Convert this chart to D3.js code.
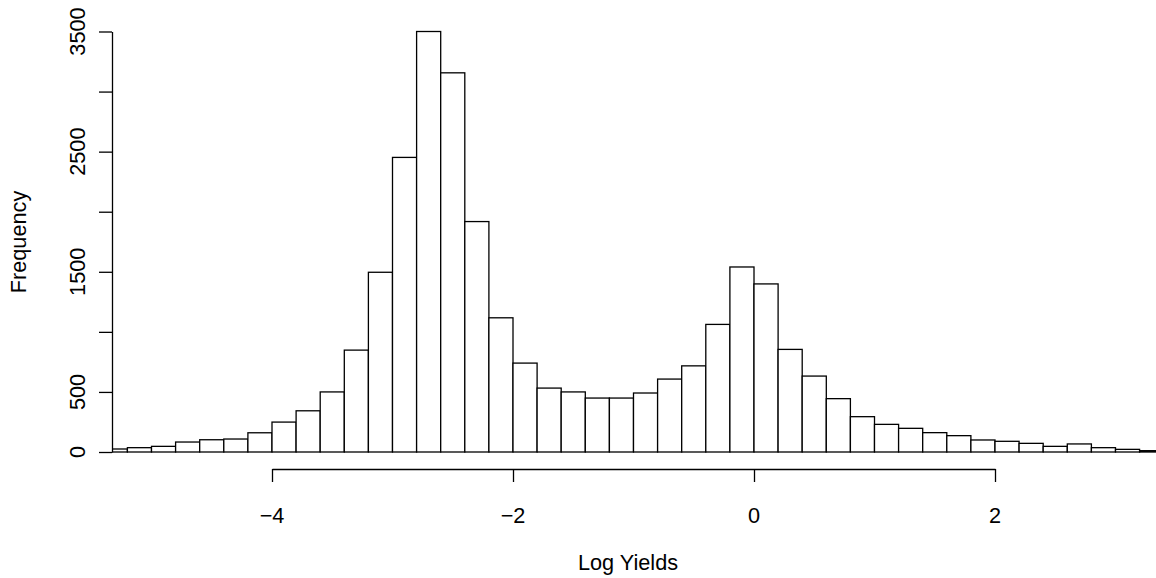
<!DOCTYPE html>
<html>
<head>
<meta charset="utf-8">
<script src="https://cdn.jsdelivr.net/npm/d3@7/dist/d3.min.js"></script>
<style>
  html, body { margin: 0; padding: 0; background: #fff; }
  svg { display: block; }
  text { font-family: "Liberation Sans", Arial, Helvetica, sans-serif; fill: #000; }
</style>
</head>
<body>
<svg id="chart" width="1156" height="578"></svg>
<script>
// Histogram bin left edges (width 0.2)
const binLefts = [-5.4,-5.2,-5.0,-4.8,-4.6,-4.4,-4.2,-4.0,-3.8,-3.6,-3.4,-3.2,-3.0,-2.8,-2.6,-2.4,-2.2,-2.0,-1.8,-1.6,-1.4,-1.2,-1.0,-0.8,-0.6,-0.4,-0.2,0.0,0.2,0.4,0.6,0.8,1.0,1.2,1.4,1.6,1.8,2.0,2.2,2.4,2.6,2.8,3.0,3.2];
const binWidth = 0.2;
const counts = [25,36,47,83,102,108,160,249,343,500,848,1496,2452,3500,3156,1918,1117,740,532,500,449,449,491,607,717,1062,1540,1399,854,632,444,294,230,197,161,136,100,89,72,47,67,36,22,11];
const xTicks = [-4,-2,0,2];
const yTicks = [0,500,1000,1500,2000,2500,3000,3500];
const yTickLabels = ["0","500","","1500","","2500","","3500"];
const xTitle = "Log Yields";
const yTitle = "Frequency";

const svg = d3.select("#chart");
const LW = 1.3;
const plotLeft = 112, plotRight = 1156, axisY = 469, tickLen = 13;

const x = d3.scaleLinear().domain([-4, 2]).range([272, 995]);
const y = d3.scaleLinear().domain([0, 3500]).range([452, 31.5]);

svg.append("defs").append("clipPath").attr("id", "plotclip")
  .append("rect").attr("x", plotLeft).attr("y", 0).attr("width", plotRight - plotLeft + 20).attr("height", axisY);

const bins = binLefts.map((l, i) => ({ x0: l, x1: l + binWidth, n: counts[i] }));

svg.append("g").attr("clip-path", "url(#plotclip)")
  .selectAll("rect").data(bins).join("rect")
  .attr("x", d => x(d.x0))
  .attr("y", d => y(d.n))
  .attr("width", d => x(d.x1) - x(d.x0))
  .attr("height", d => y(0) - y(d.n))
  .attr("fill", "#fff")
  .attr("stroke", "#000")
  .attr("stroke-width", LW);

// X axis
const xAxis = d3.axisBottom(x).tickValues(xTicks).tickSize(tickLen).tickSizeOuter(0).tickFormat("");
const gx = svg.append("g").attr("transform", `translate(0,${axisY})`).call(xAxis);
gx.selectAll("path, line").attr("stroke", "#000").attr("stroke-width", LW);
svg.append("g").selectAll("text").data(xTicks).join("text")
  .attr("x", d => x(d)).attr("y", 523)
  .attr("text-anchor", "middle").attr("font-size", 21.7)
  .text(d => d < 0 ? "\u2212" + Math.abs(d) : String(d));

// Y axis
const yAxis = d3.axisLeft(y).tickValues(yTicks).tickSize(tickLen).tickSizeOuter(0).tickFormat("");
const gy = svg.append("g").attr("transform", `translate(${plotLeft},0)`).call(yAxis);
gy.selectAll("path, line").attr("stroke", "#000").attr("stroke-width", LW);
svg.append("g").selectAll("text").data(yTicks.map((v, i) => ({ v, t: yTickLabels[i] })).filter(d => d.t))
  .join("text")
  .attr("transform", d => `translate(85,${y(d.v)}) rotate(-90)`)
  .attr("text-anchor", "middle").attr("font-size", 21.7)
  .text(d => d.t);

// Titles
svg.append("text").attr("x", 628).attr("y", 570)
  .attr("text-anchor", "middle").attr("font-size", 21.7).text(xTitle);
svg.append("text").attr("transform", `translate(26,242) rotate(-90)`)
  .attr("text-anchor", "middle").attr("font-size", 21.7).text(yTitle);
</script>
</body>
</html>
